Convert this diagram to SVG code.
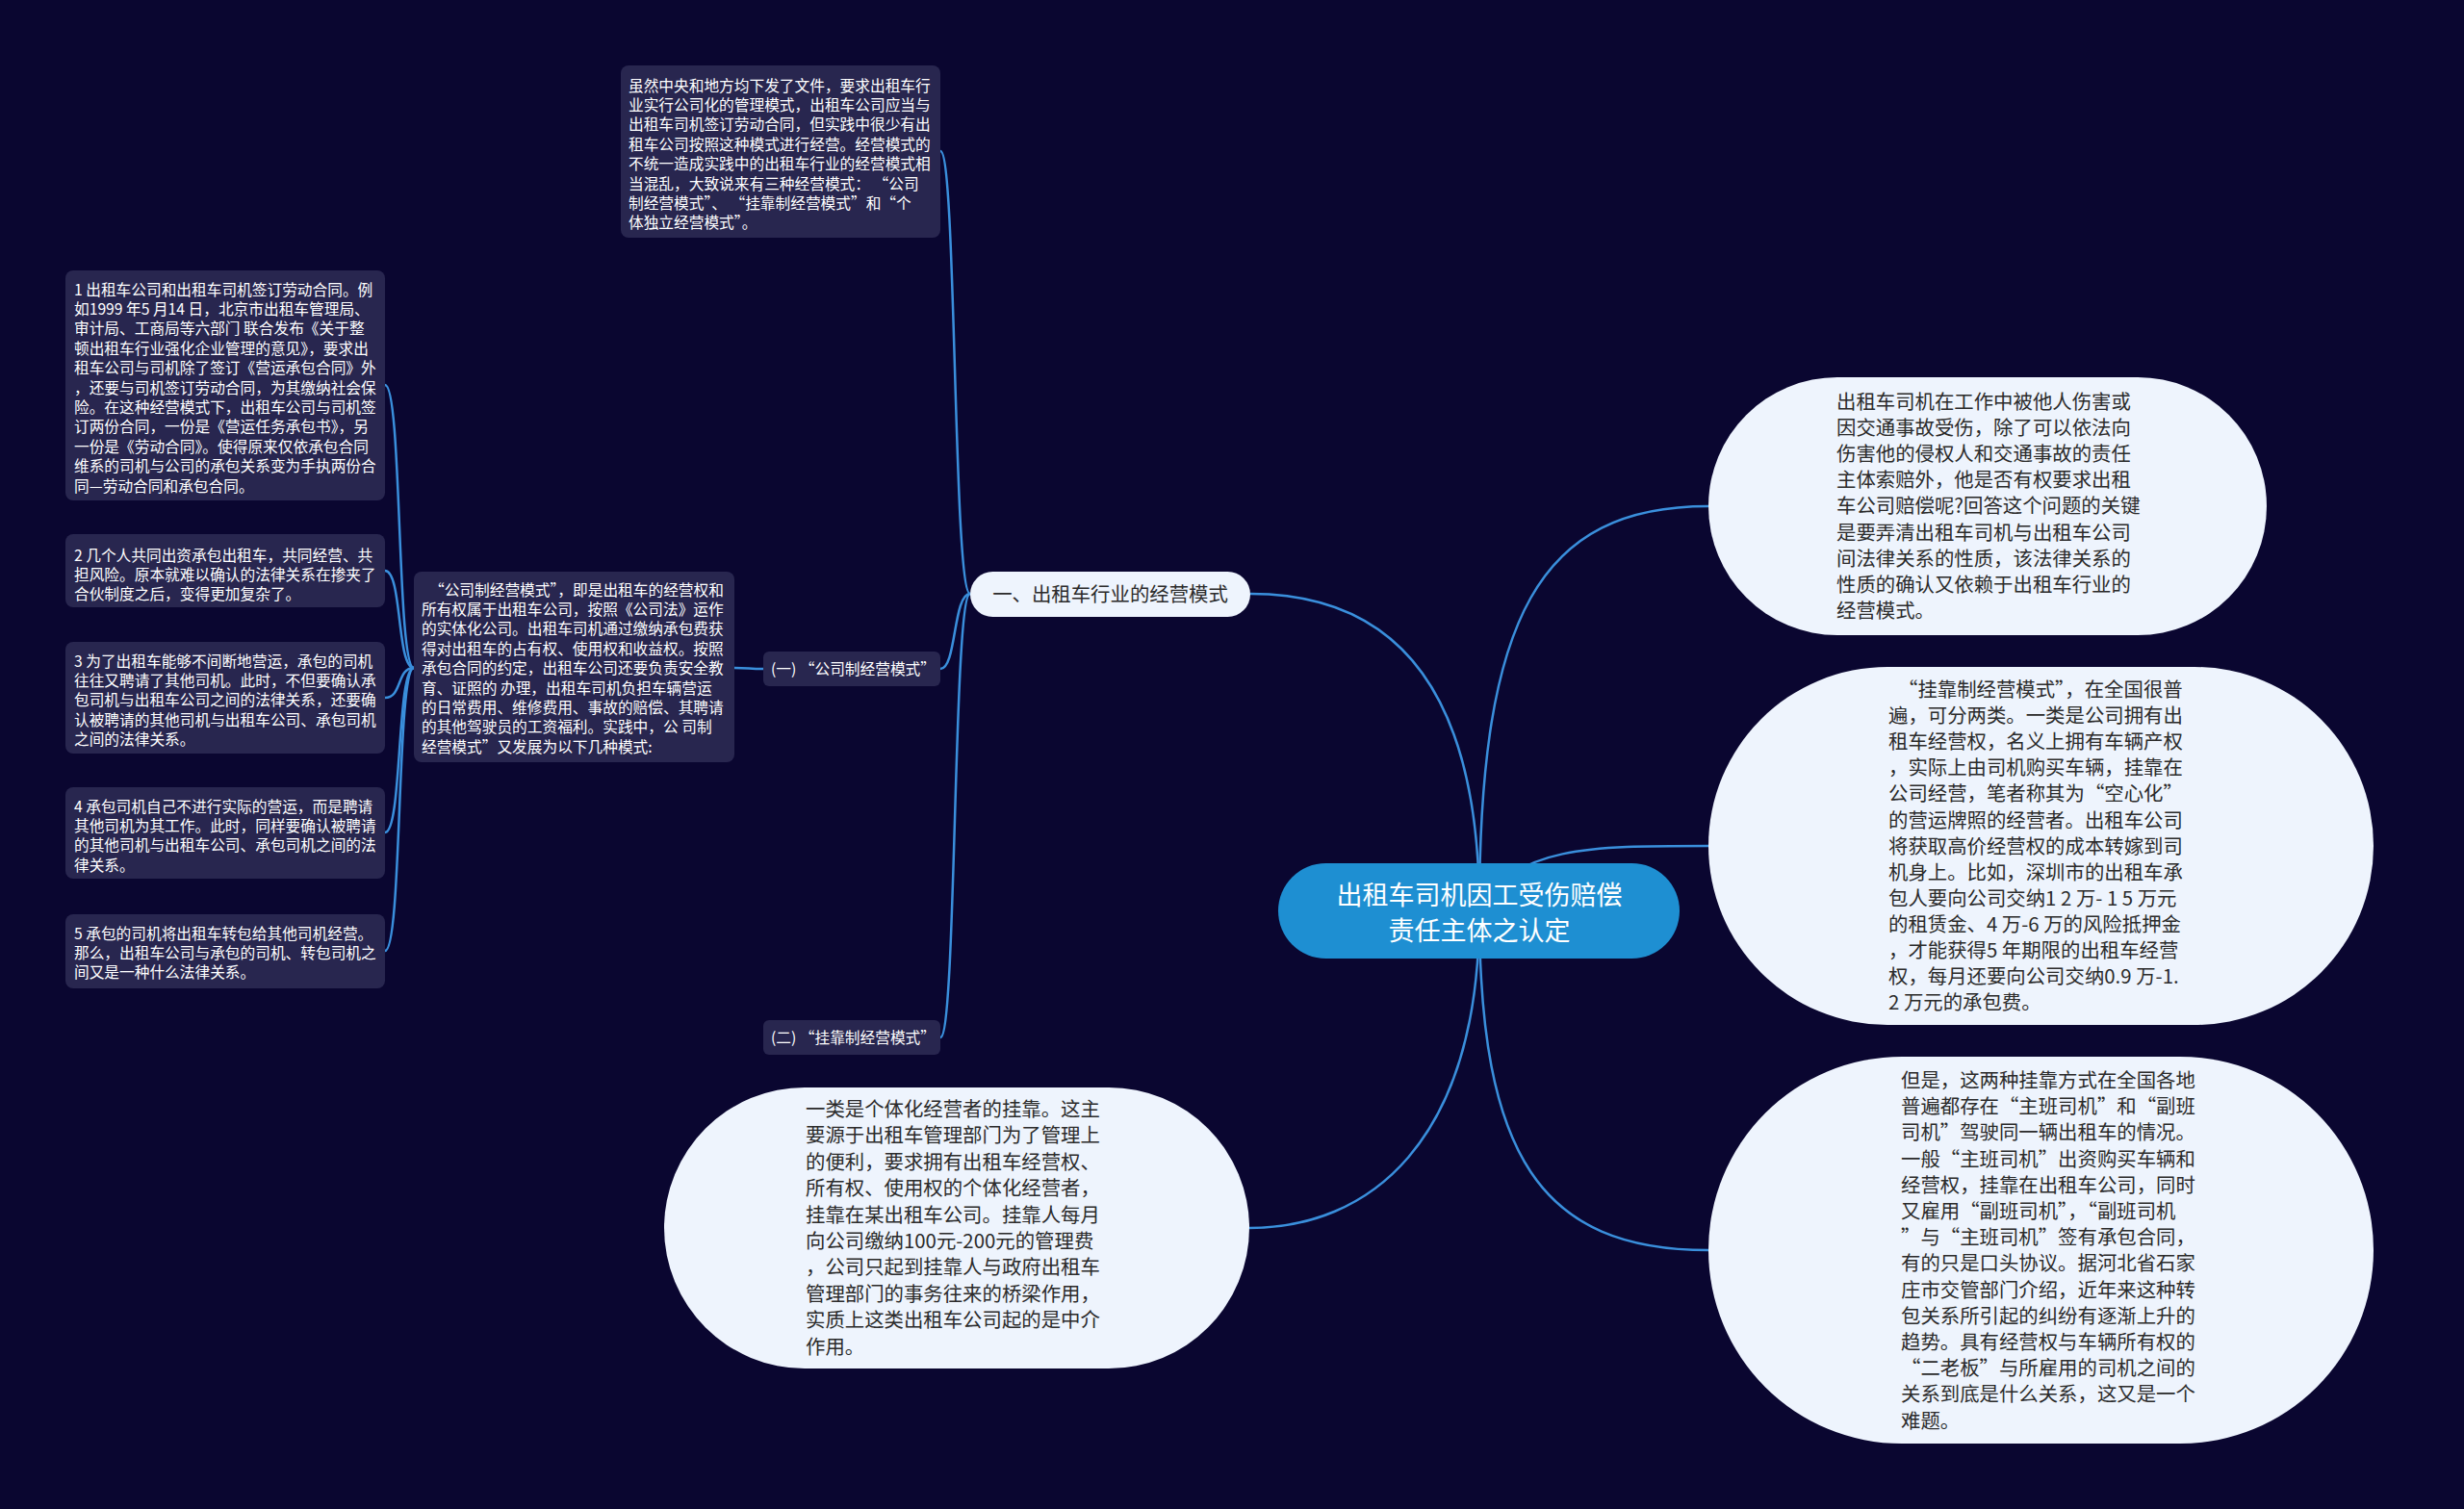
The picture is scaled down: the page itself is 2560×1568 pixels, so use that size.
<svg xmlns="http://www.w3.org/2000/svg" width="2560" height="1568" viewBox="0 0 2560 1568">
<style>
.bg{fill:#0a0630}
.dbox{fill:#28264f}
.dt{font-family:"Noto Sans CJK SC","Liberation Sans",sans-serif;font-size:15.7px;fill:#ffffff}
.pill{fill:#eef4fd}
.pt{font-family:"Noto Sans CJK SC","Liberation Sans",sans-serif;font-size:20.4px;fill:#2b2b2b}
.ct{font-family:"Noto Sans CJK SC","Liberation Sans",sans-serif;font-size:27px;fill:#ffffff}
.ln{fill:none;stroke:#3a8fdc;stroke-width:2.5}
</style>
<rect class="bg" x="0" y="0" width="2560" height="1568"/>
<g id="connectors">
<path class="ln" d="M1537,946 C1537,640 1600,526 1775,526"/>
<path class="ln" d="M1537,946 C1575,879 1650,879 1775,879"/>
<path class="ln" d="M1537,946 C1537,1200 1600,1299 1775,1299"/>
<path class="ln" d="M1537,946 C1537,680 1420,617 1299,617"/>
<path class="ln" d="M1537,946 C1537,1190 1420,1276 1298,1276"/>
<path class="ln" d="M1008,617 C990,617 994,157 977,157"/>
<path class="ln" d="M1008,617 C990,617 994,695 977,695"/>
<path class="ln" d="M1008,617 C990,617 994,1078 977,1078"/>
<path class="ln" d="M793,695 C778,695 778,694 763,694"/>
<path class="ln" d="M430,694 C412,694 418,400 400,400"/>
<path class="ln" d="M430,694 C412,694 418,593 400,593"/>
<path class="ln" d="M430,694 C412,694 418,725 400,725"/>
<path class="ln" d="M430,694 C412,694 418,865 400,865"/>
<path class="ln" d="M430,694 C412,694 418,988 400,988"/>
</g>
<g id="center">
<rect x="1328" y="897" width="417" height="99" rx="49.5" fill="#1e8fd2"/>
<text class="ct" text-anchor="middle" x="1537" y="939.5">出租车司机因工受伤赔偿</text>
<text class="ct" text-anchor="middle" x="1537" y="976.5">责任主体之认定</text>
</g>
<g id="n-mode">
<rect class="pill" x="1008" y="594" width="291" height="47" rx="23.5"/>
<text class="pt" text-anchor="middle" x="1153.5" y="624.5">一、出租车行业的经营模式</text>
</g>
<g id="n-intro">
<rect class="dbox" x="645" y="68" width="332" height="179" rx="8"/>
<text class="dt" x="653" y="94.5">
<tspan x="653">虽然中央和地方均下发了文件，要求出租车行</tspan>
<tspan x="653" dy="20.4">业实行公司化的管理模式，出租车公司应当与</tspan>
<tspan x="653" dy="20.4">出租车司机签订劳动合同，但实践中很少有出</tspan>
<tspan x="653" dy="20.4">租车公司按照这种模式进行经营。经营模式的</tspan>
<tspan x="653" dy="20.4">不统一造成实践中的出租车行业的经营模式相</tspan>
<tspan x="653" dy="20.4">当混乱，大致说来有三种经营模式：  “公司</tspan>
<tspan x="653" dy="20.4">制经营模式”、  “挂靠制经营模式”和“个</tspan>
<tspan x="653" dy="20.4">体独立经营模式”。</tspan>
</text>
</g>
<g id="n-company">
<rect class="dbox" x="793" y="677" width="184" height="36" rx="6"/>
<text class="dt" x="801" y="700.5">(一) “公司制经营模式”</text>
</g>
<g id="n-affiliate">
<rect class="dbox" x="793" y="1060" width="184" height="36" rx="6"/>
<text class="dt" x="801" y="1083.5">(二) “挂靠制经营模式”</text>
</g>
<g id="n-company-desc">
<rect class="dbox" x="430" y="594" width="333" height="198" rx="8"/>
<text class="dt" x="438" y="618.5">
<tspan x="446">“公司制经营模式”，即是出租车的经营权和</tspan>
<tspan x="438" dy="20.4">所有权属于出租车公司，按照《公司法》运作</tspan>
<tspan x="438" dy="20.4">的实体化公司。出租车司机通过缴纳承包费获</tspan>
<tspan x="438" dy="20.4">得对出租车的占有权、使用权和收益权。按照</tspan>
<tspan x="438" dy="20.4">承包合同的约定，出租车公司还要负责安全教</tspan>
<tspan x="438" dy="20.4">育、证照的 办理，出租车司机负担车辆营运</tspan>
<tspan x="438" dy="20.4">的日常费用、维修费用、事故的赔偿、其聘请</tspan>
<tspan x="438" dy="20.4">的其他驾驶员的工资福利。实践中，公 司制</tspan>
<tspan x="438" dy="20.4">经营模式”又发展为以下几种模式:</tspan>
</text>
</g>
<g id="n-c1">
<rect class="dbox" x="68" y="281" width="332" height="239" rx="8"/>
<text class="dt" x="77" y="306.5">
<tspan x="77">1 出租车公司和出租车司机签订劳动合同。例</tspan>
<tspan x="77" dy="20.4">如1999 年5 月14 日，北京市出租车管理局、</tspan>
<tspan x="77" dy="20.4">审计局、工商局等六部门 联合发布《关于整</tspan>
<tspan x="77" dy="20.4">顿出租车行业强化企业管理的意见》，要求出</tspan>
<tspan x="77" dy="20.4">租车公司与司机除了签订《营运承包合同》外</tspan>
<tspan x="77" dy="20.4">，还要与司机签订劳动合同，为其缴纳社会保</tspan>
<tspan x="77" dy="20.4">险。在这种经营模式下，出租车公司与司机签</tspan>
<tspan x="77" dy="20.4">订两份合同，一份是《营运任务承包书》，另</tspan>
<tspan x="77" dy="20.4">一份是《劳动合同》。使得原来仅依承包合同</tspan>
<tspan x="77" dy="20.4">维系的司机与公司的承包关系变为手执两份合</tspan>
<tspan x="77" dy="20.4">同—劳动合同和承包合同。</tspan>
</text>
</g>
<g id="n-c2">
<rect class="dbox" x="68" y="555" width="332" height="76" rx="8"/>
<text class="dt" x="77" y="582.5">
<tspan x="77">2 几个人共同出资承包出租车，共同经营、共</tspan>
<tspan x="77" dy="20.4">担风险。原本就难以确认的法律关系在掺夹了</tspan>
<tspan x="77" dy="20.4">合伙制度之后，变得更加复杂了。</tspan>
</text>
</g>
<g id="n-c3">
<rect class="dbox" x="68" y="667" width="332" height="116" rx="8"/>
<text class="dt" x="77" y="692.5">
<tspan x="77">3 为了出租车能够不间断地营运，承包的司机</tspan>
<tspan x="77" dy="20.4">往往又聘请了其他司机。此时，不但要确认承</tspan>
<tspan x="77" dy="20.4">包司机与出租车公司之间的法律关系，还要确</tspan>
<tspan x="77" dy="20.4">认被聘请的其他司机与出租车公司、承包司机</tspan>
<tspan x="77" dy="20.4">之间的法律关系。</tspan>
</text>
</g>
<g id="n-c4">
<rect class="dbox" x="68" y="818" width="332" height="95" rx="8"/>
<text class="dt" x="77" y="843.5">
<tspan x="77">4 承包司机自己不进行实际的营运，而是聘请</tspan>
<tspan x="77" dy="20.4">其他司机为其工作。此时，同样要确认被聘请</tspan>
<tspan x="77" dy="20.4">的其他司机与出租车公司、承包司机之间的法</tspan>
<tspan x="77" dy="20.4">律关系。</tspan>
</text>
</g>
<g id="n-c5">
<rect class="dbox" x="68" y="950" width="332" height="77" rx="8"/>
<text class="dt" x="77" y="975.5">
<tspan x="77">5 承包的司机将出租车转包给其他司机经营。</tspan>
<tspan x="77" dy="20.4">那么，出租车公司与承包的司机、转包司机之</tspan>
<tspan x="77" dy="20.4">间又是一种什么法律关系。</tspan>
</text>
</g>
<g id="n-question">
<rect class="pill" x="1775" y="392" width="580" height="268" rx="134"/>
<text class="pt" x="1908" y="425">
<tspan x="1908">出租车司机在工作中被他人伤害或</tspan>
<tspan x="1908" dy="27.1">因交通事故受伤，除了可以依法向</tspan>
<tspan x="1908" dy="27.1">伤害他的侵权人和交通事故的责任</tspan>
<tspan x="1908" dy="27.1">主体索赔外，他是否有权要求出租</tspan>
<tspan x="1908" dy="27.1">车公司赔偿呢?回答这个问题的关键</tspan>
<tspan x="1908" dy="27.1">是要弄清出租车司机与出租车公司</tspan>
<tspan x="1908" dy="27.1">间法律关系的性质，该法律关系的</tspan>
<tspan x="1908" dy="27.1">性质的确认又依赖于出租车行业的</tspan>
<tspan x="1908" dy="27.1">经营模式。</tspan>
</text>
</g>
<g id="n-affiliate-desc">
<rect class="pill" x="1775" y="693" width="691" height="372" rx="186"/>
<text class="pt" x="1962" y="724">
<tspan x="1972">“挂靠制经营模式”，在全国很普</tspan>
<tspan x="1962" dy="27.1">遍，可分两类。一类是公司拥有出</tspan>
<tspan x="1962" dy="27.1">租车经营权，名义上拥有车辆产权</tspan>
<tspan x="1962" dy="27.1">，实际上由司机购买车辆，挂靠在</tspan>
<tspan x="1962" dy="27.1">公司经营，笔者称其为“空心化”</tspan>
<tspan x="1962" dy="27.1">的营运牌照的经营者。出租车公司</tspan>
<tspan x="1962" dy="27.1">将获取高价经营权的成本转嫁到司</tspan>
<tspan x="1962" dy="27.1">机身上。比如，深圳市的出租车承</tspan>
<tspan x="1962" dy="27.1">包人要向公司交纳1 2 万- 1 5 万元</tspan>
<tspan x="1962" dy="27.1">的租赁金、4 万-6 万的风险抵押金</tspan>
<tspan x="1962" dy="27.1">，才能获得5 年期限的出租车经营</tspan>
<tspan x="1962" dy="27.1">权，每月还要向公司交纳0.9 万-1.</tspan>
<tspan x="1962" dy="27.1">2 万元的承包费。</tspan>
</text>
</g>
<g id="n-shift">
<rect class="pill" x="1775" y="1098" width="691" height="402" rx="201"/>
<text class="pt" x="1975" y="1130">
<tspan x="1975">但是，这两种挂靠方式在全国各地</tspan>
<tspan x="1975" dy="27.2">普遍都存在“主班司机”和“副班</tspan>
<tspan x="1975" dy="27.2">司机”驾驶同一辆出租车的情况。</tspan>
<tspan x="1975" dy="27.2">一般“主班司机”出资购买车辆和</tspan>
<tspan x="1975" dy="27.2">经营权，挂靠在出租车公司，同时</tspan>
<tspan x="1975" dy="27.2">又雇用“副班司机”，“副班司机</tspan>
<tspan x="1975" dy="27.2">”与“主班司机”签有承包合同，</tspan>
<tspan x="1975" dy="27.2">有的只是口头协议。据河北省石家</tspan>
<tspan x="1975" dy="27.2">庄市交管部门介绍，近年来这种转</tspan>
<tspan x="1975" dy="27.2">包关系所引起的纠纷有逐渐上升的</tspan>
<tspan x="1975" dy="27.2">趋势。具有经营权与车辆所有权的</tspan>
<tspan x="1975" dy="27.2">“二老板”与所雇用的司机之间的</tspan>
<tspan x="1975" dy="27.2">关系到底是什么关系，这又是一个</tspan>
<tspan x="1975" dy="27.2">难题。</tspan>
</text>
</g>
<g id="n-individual">
<rect class="pill" x="690" y="1130" width="608" height="292" rx="146"/>
<text class="pt" x="837" y="1160">
<tspan x="837">一类是个体化经营者的挂靠。这主</tspan>
<tspan x="837" dy="27.4">要源于出租车管理部门为了管理上</tspan>
<tspan x="837" dy="27.4">的便利，要求拥有出租车经营权、</tspan>
<tspan x="837" dy="27.4">所有权、使用权的个体化经营者，</tspan>
<tspan x="837" dy="27.4">挂靠在某出租车公司。挂靠人每月</tspan>
<tspan x="837" dy="27.4">向公司缴纳100元-200元的管理费</tspan>
<tspan x="837" dy="27.4">，公司只起到挂靠人与政府出租车</tspan>
<tspan x="837" dy="27.4">管理部门的事务往来的桥梁作用，</tspan>
<tspan x="837" dy="27.4">实质上这类出租车公司起的是中介</tspan>
<tspan x="837" dy="27.4">作用。</tspan>
</text>
</g>
</svg>
